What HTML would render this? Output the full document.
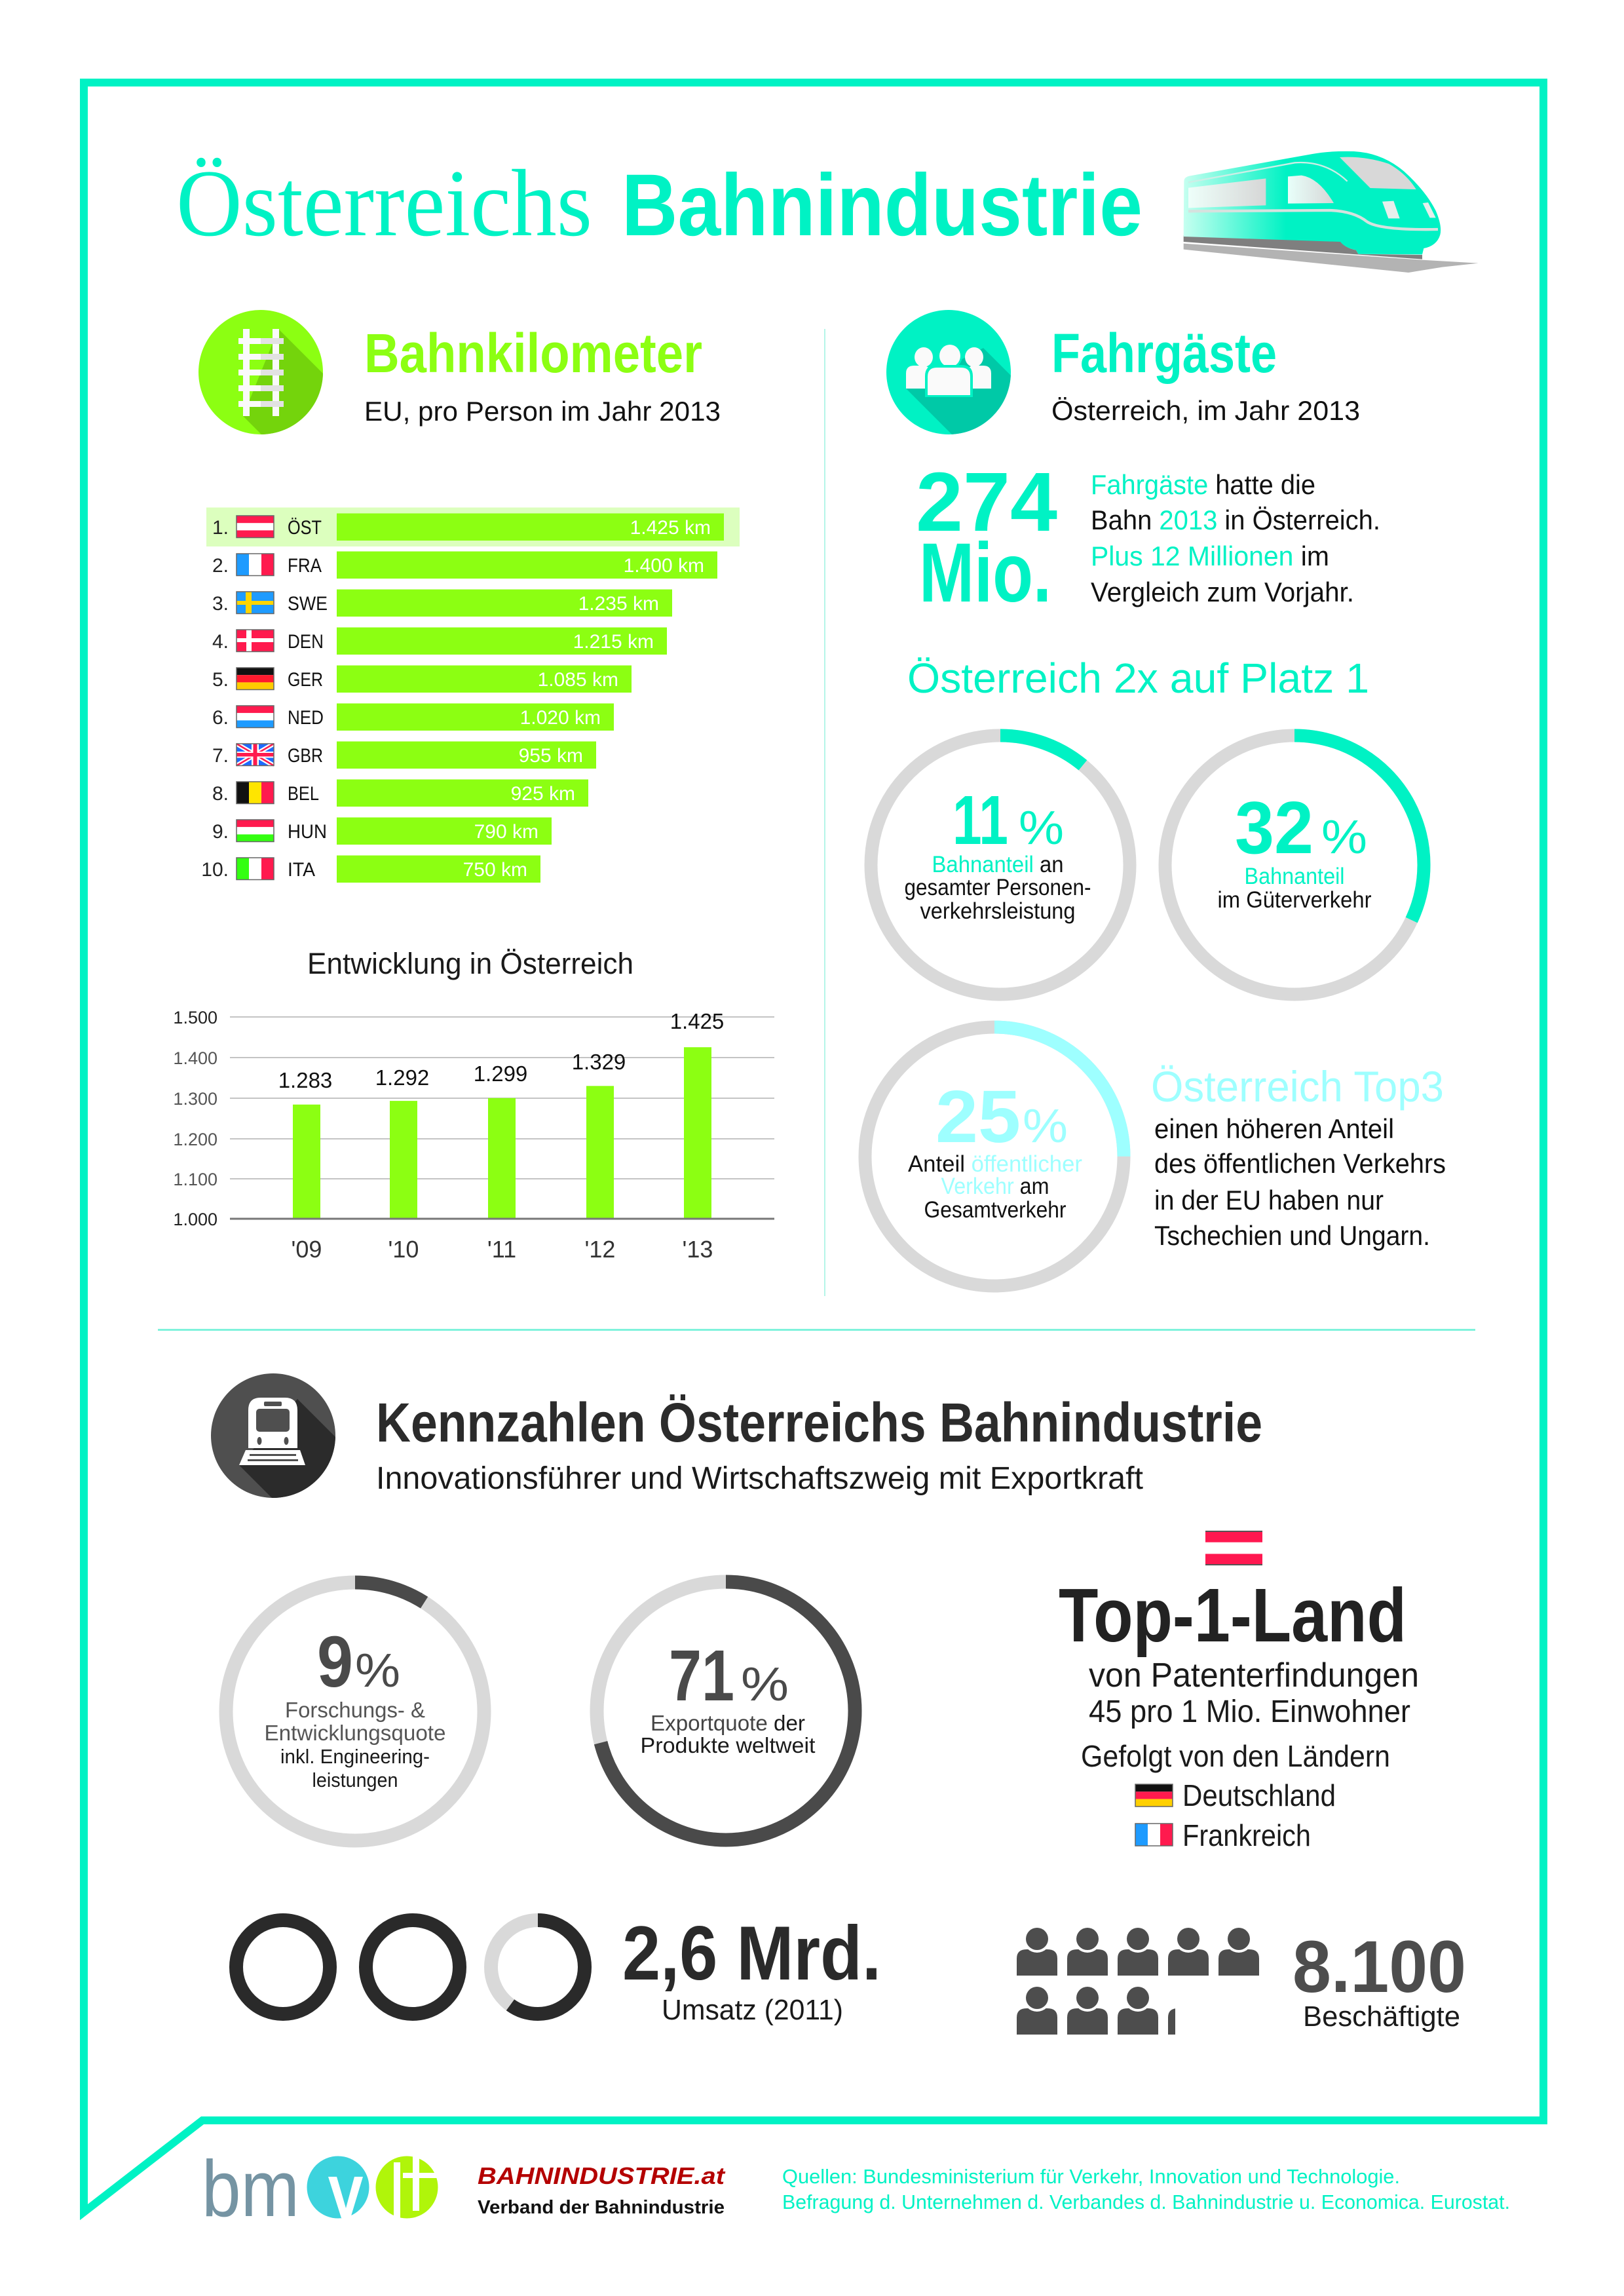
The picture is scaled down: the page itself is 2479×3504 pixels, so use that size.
<!DOCTYPE html>
<html><head><meta charset="utf-8"><title>Österreichs Bahnindustrie</title>
<style>
html,body{margin:0;padding:0;background:#fff;}
svg{display:block;}
text{font-family:"Liberation Sans","DejaVu Sans",sans-serif;}
.serif{font-family:"Liberation Serif","DejaVu Serif",serif;}
</style></head>
<body>
<svg xmlns="http://www.w3.org/2000/svg" width="2479" height="3504" viewBox="0 0 2479 3504">
<defs>
  <linearGradient id="tg" gradientUnits="userSpaceOnUse" x1="50" y1="0" x2="520" y2="0">
    <stop offset="0" stop-color="#c6fff0"/><stop offset="1" stop-color="#00F2C4"/>
  </linearGradient>
  <linearGradient id="wg" gradientUnits="userSpaceOnUse" x1="70" y1="0" x2="430" y2="0">
    <stop offset="0" stop-color="#eefffa"/><stop offset="1" stop-color="#d6d6d6"/>
  </linearGradient>
  <linearGradient id="wg2" gradientUnits="userSpaceOnUse" x1="528" y1="0" x2="740" y2="0">
    <stop offset="0" stop-color="#e8fffa"/><stop offset="1" stop-color="#d6d6d6"/>
  </linearGradient>
  <clipPath id="c1"><circle cx="398" cy="568" r="95"/></clipPath>
  <clipPath id="c2"><circle cx="1448" cy="568" r="95"/></clipPath>
  <clipPath id="c3"><circle cx="417" cy="2191" r="95"/></clipPath>
  <clipPath id="pc"><rect x="1540" y="2920" width="254" height="200"/></clipPath>
  <g id="person">
    <path d="M0,74 L0,48 Q0,34 15,34 L47,34 Q62,34 62,48 L62,74 Q62,74 58,74 L4,74 Q0,74 0,74 Z" fill="#4d4d4d"/>
    <circle cx="31" cy="18" r="21" fill="#fff"/>
    <circle cx="31" cy="18" r="17" fill="#4d4d4d"/>
  </g>
</defs>

<!-- Frame -->
<path d="M309,3236 L2356,3236 L2356,126 L128,126 L128,3376 Z" fill="none" stroke="#00F2C4" stroke-width="12" stroke-linejoin="miter" stroke-miterlimit="6"/>

<!-- Title -->
<text class="serif" x="269" y="359" font-size="146" fill="#00F2C4" textLength="635" lengthAdjust="spacingAndGlyphs">Österreichs</text>
<text x="949" y="359" font-size="134" font-weight="bold" fill="#00F2C4" textLength="795" lengthAdjust="spacingAndGlyphs">Bahnindustrie</text>

<!-- Train -->
<g transform="translate(1790,215) scale(0.33333)">
  <path d="M50,470 L1140,545 L1400,560 L1235,578 L1080,603 L50,497 Z" fill="#b3b3b3"/>
  <path d="M50,432 L768,460 Q790,490 840,500 L850,518 L1143,522 L1143,542 L50,462 Z" fill="#7f7f7f"/>
  <path d="M52,185 Q52,165 80,160 L640,60 Q720,45 830,48 Q960,55 1060,140 Q1160,230 1205,320 Q1235,390 1225,430 Q1210,480 1150,492 L1143,520 L850,518 L840,500 Q790,490 768,462 L50,438 Z" fill="url(#tg)"/>
  <path d="M72,215 L427,172 L427,295 L72,307 Z" fill="url(#wg)"/>
  <path d="M528,163 L590,158 Q670,170 738,285 L528,287 Z" fill="url(#wg2)"/>
  <path d="M765,75 Q880,68 990,105 Q1070,150 1115,222 L905,216 Z" fill="#d8d8d8"/>
  <path d="M960,278 L1012,275 L1040,355 L988,355 Z" fill="#e6efec"/>
  <path d="M1145,285 L1170,282 L1205,352 L1178,352 Z" fill="#e6efec"/>
  <path d="M72,190 L560,100 Q700,90 800,185" fill="none" stroke="#cdeee6" stroke-width="7"/>
  <path d="M72,322 L720,318 Q830,322 890,370 Q950,410 1215,405" fill="none" stroke="#d5e2de" stroke-width="13"/>
</g>

<!-- Bahnkilometer header -->
<circle cx="398" cy="568" r="95" fill="#8CFF12"/>
<polygon points="425,502 725,802 671,935 371,635" fill="#74D40C" clip-path="url(#c1)"/>
<rect x="371" y="502" width="10" height="133" fill="#fafafa"/>
<rect x="416" y="502" width="10" height="133" fill="#fafafa"/>
<g>
  <rect x="364" y="516" width="34" height="9" fill="#fafafa"/><rect x="398" y="516" width="35" height="9" fill="#e2e2e2"/>
  <rect x="364" y="540" width="34" height="9" fill="#fafafa"/><rect x="398" y="540" width="35" height="9" fill="#e2e2e2"/>
  <rect x="364" y="564" width="34" height="9" fill="#fafafa"/><rect x="398" y="564" width="35" height="9" fill="#e2e2e2"/>
  <rect x="364" y="588" width="34" height="9" fill="#fafafa"/><rect x="398" y="588" width="35" height="9" fill="#e2e2e2"/>
  <rect x="364" y="612" width="34" height="9" fill="#fafafa"/><rect x="398" y="612" width="35" height="9" fill="#e2e2e2"/>
</g>
<text x="556" y="568" font-size="84" font-weight="bold" fill="#8CFF12" textLength="516" lengthAdjust="spacingAndGlyphs">Bahnkilometer</text>
<text x="556" y="642" font-size="42" fill="#111" textLength="544" lengthAdjust="spacingAndGlyphs">EU, pro Person im Jahr 2013</text>

<!-- vertical divider -->
<rect x="1258" y="502" width="2" height="1476" fill="#b5f5e8"/>

<!-- Fahrgäste header -->
<circle cx="1448" cy="568" r="95" fill="#00F2C4"/>
<polygon points="1501,531 1801,831 1683,893 1383,593" fill="#00C9A7" clip-path="url(#c2)"/>
<g fill="#fafafa">
  <ellipse cx="1410" cy="545" rx="14" ry="15"/>
  <path d="M1383,593 L1383,570 Q1383,558 1395,558 L1408,558 Q1420,558 1420,570 L1420,593 Z"/>
  <ellipse cx="1487" cy="545" rx="14" ry="15"/>
  <path d="M1476,593 L1476,570 Q1476,558 1488,558 L1501,558 Q1513,558 1513,570 L1513,593 Z"/>
  <ellipse cx="1450" cy="543" rx="19" ry="20" fill="#00F2C4"/>
  <ellipse cx="1450" cy="543" rx="16" ry="17"/>
  <path d="M1412,606 L1412,574 Q1412,557 1429,557 L1468,557 Q1485,557 1485,574 L1485,606 Z" fill="#00F2C4"/>
  <path d="M1416,603 L1416,575 Q1416,561 1430,561 L1467,561 Q1481,561 1481,575 L1481,603 Z"/>
</g>
<text x="1605" y="568" font-size="84" font-weight="bold" fill="#00F2C4" textLength="344" lengthAdjust="spacingAndGlyphs">Fahrgäste</text>
<text x="1605" y="641" font-size="42" fill="#111" textLength="471" lengthAdjust="spacingAndGlyphs">Österreich, im Jahr 2013</text>

<!-- Ranking list -->
<rect x="315" y="774.5" width="814" height="59.5" fill="#DCFFBE"/>
<g fill="#8CFF12">
  <rect x="514" y="783.5" width="591" height="41.5"/>
  <rect x="514" y="841.5" width="581" height="41.5"/>
  <rect x="514" y="899.5" width="512" height="41.5"/>
  <rect x="514" y="957.5" width="504" height="41.5"/>
  <rect x="514" y="1015.5" width="450" height="41.5"/>
  <rect x="514" y="1073.5" width="423" height="41.5"/>
  <rect x="514" y="1131.5" width="396" height="41.5"/>
  <rect x="514" y="1189.5" width="384" height="41.5"/>
  <rect x="514" y="1247.5" width="328" height="41.5"/>
  <rect x="514" y="1305.5" width="311" height="41.5"/>
</g>
<g font-size="30" fill="#fff" text-anchor="end">
  <text x="1085" y="815">1.425 km</text>
  <text x="1075" y="873">1.400 km</text>
  <text x="1006" y="931">1.235 km</text>
  <text x="998" y="989">1.215 km</text>
  <text x="944" y="1047">1.085 km</text>
  <text x="917" y="1105">1.020 km</text>
  <text x="890" y="1163">955 km</text>
  <text x="878" y="1221">925 km</text>
  <text x="822" y="1279">790 km</text>
  <text x="805" y="1337">750 km</text>
</g>
<g font-size="30" fill="#222" text-anchor="end">
  <text x="349" y="815">1.</text><text x="349" y="873">2.</text><text x="349" y="931">3.</text>
  <text x="349" y="989">4.</text><text x="349" y="1047">5.</text><text x="349" y="1105">6.</text>
  <text x="349" y="1163">7.</text><text x="349" y="1221">8.</text><text x="349" y="1279">9.</text>
  <text x="349" y="1337">10.</text>
</g>
<g font-size="30" fill="#111">
  <text x="439" y="815" textLength="52" lengthAdjust="spacingAndGlyphs">ÖST</text>
  <text x="439" y="873" textLength="52" lengthAdjust="spacingAndGlyphs">FRA</text>
  <text x="439" y="931" textLength="61" lengthAdjust="spacingAndGlyphs">SWE</text>
  <text x="439" y="989" textLength="55" lengthAdjust="spacingAndGlyphs">DEN</text>
  <text x="439" y="1047" textLength="54" lengthAdjust="spacingAndGlyphs">GER</text>
  <text x="439" y="1105" textLength="55" lengthAdjust="spacingAndGlyphs">NED</text>
  <text x="439" y="1163" textLength="54" lengthAdjust="spacingAndGlyphs">GBR</text>
  <text x="439" y="1221" textLength="48" lengthAdjust="spacingAndGlyphs">BEL</text>
  <text x="439" y="1279" textLength="60" lengthAdjust="spacingAndGlyphs">HUN</text>
  <text x="439" y="1337" textLength="42" lengthAdjust="spacingAndGlyphs">ITA</text>
</g>
<!-- flags -->
<g>
  <!-- AT -->
  <g transform="translate(361,787)">
    <rect width="57" height="33.5" fill="#FF1A4E"/><rect y="11.2" width="57" height="11.2" fill="#fff"/>
    <rect width="57" height="33.5" fill="none" stroke="#666" stroke-width="1.5"/>
  </g>
  <!-- FR -->
  <g transform="translate(361,845)">
    <rect width="19" height="33.5" fill="#1E9BFF"/><rect x="19" width="19" height="33.5" fill="#fff"/><rect x="38" width="19" height="33.5" fill="#FF1A4E"/>
    <rect width="57" height="33.5" fill="none" stroke="#666" stroke-width="1.5"/>
  </g>
  <!-- SWE -->
  <g transform="translate(361,903)">
    <rect width="57" height="33.5" fill="#1E9BFF"/><rect x="14" width="9" height="33.5" fill="#FFD500"/><rect y="14" width="57" height="6" fill="#FFD500"/>
    <rect width="57" height="33.5" fill="none" stroke="#666" stroke-width="1.5"/>
  </g>
  <!-- DEN -->
  <g transform="translate(361,961)">
    <rect width="57" height="33.5" fill="#FF1A4E"/><rect x="15" width="8" height="33.5" fill="#fff"/><rect y="13" width="57" height="6" fill="#fff"/>
    <rect width="57" height="33.5" fill="none" stroke="#666" stroke-width="1.5"/>
  </g>
  <!-- GER -->
  <g transform="translate(361,1019)">
    <rect width="57" height="11.2" fill="#111"/><rect y="11.2" width="57" height="11.2" fill="#FF1A2E"/><rect y="22.4" width="57" height="11.1" fill="#FFCC00"/>
    <rect width="57" height="33.5" fill="none" stroke="#666" stroke-width="1.5"/>
  </g>
  <!-- NED -->
  <g transform="translate(361,1077)">
    <rect width="57" height="11.2" fill="#FF1A4E"/><rect y="11.2" width="57" height="11.2" fill="#fff"/><rect y="22.4" width="57" height="11.1" fill="#1E9BFF"/>
    <rect width="57" height="33.5" fill="none" stroke="#666" stroke-width="1.5"/>
  </g>
  <!-- GBR -->
  <g transform="translate(361,1135)">
    <rect width="57" height="33.5" fill="#1E6BFF"/>
    <path d="M0,0 L57,33.5 M57,0 L0,33.5" stroke="#fff" stroke-width="7"/>
    <path d="M0,0 L57,33.5 M57,0 L0,33.5" stroke="#FF1A4E" stroke-width="2.5"/>
    <rect x="23" width="11" height="33.5" fill="#fff"/><rect y="12" width="57" height="9.5" fill="#fff"/>
    <rect x="25.5" width="6" height="33.5" fill="#FF1A4E"/><rect y="14" width="57" height="5.5" fill="#FF1A4E"/>
    <rect width="57" height="33.5" fill="none" stroke="#666" stroke-width="1.5"/>
  </g>
  <!-- BEL -->
  <g transform="translate(361,1193)">
    <rect width="19" height="33.5" fill="#111"/><rect x="19" width="19" height="33.5" fill="#FFE500"/><rect x="38" width="19" height="33.5" fill="#FF1A4E"/>
    <rect width="57" height="33.5" fill="none" stroke="#666" stroke-width="1.5"/>
  </g>
  <!-- HUN -->
  <g transform="translate(361,1251)">
    <rect width="57" height="11.2" fill="#FF1A4E"/><rect y="11.2" width="57" height="11.2" fill="#fff"/><rect y="22.4" width="57" height="11.1" fill="#33FF11"/>
    <rect width="57" height="33.5" fill="none" stroke="#666" stroke-width="1.5"/>
  </g>
  <!-- ITA -->
  <g transform="translate(361,1309)">
    <rect width="19" height="33.5" fill="#33FF11"/><rect x="19" width="19" height="33.5" fill="#fff"/><rect x="38" width="19" height="33.5" fill="#FF1A4E"/>
    <rect width="57" height="33.5" fill="none" stroke="#666" stroke-width="1.5"/>
  </g>
</g>

<!-- Entwicklung chart -->
<text x="469" y="1486" font-size="45" fill="#1a1a1a" textLength="498" lengthAdjust="spacingAndGlyphs">Entwicklung in Österreich</text>
<g stroke="#c4c4c4" stroke-width="2">
  <line x1="351" y1="1552" x2="1182" y2="1552"/>
  <line x1="351" y1="1614" x2="1182" y2="1614"/>
  <line x1="351" y1="1676" x2="1182" y2="1676"/>
  <line x1="351" y1="1738" x2="1182" y2="1738"/>
  <line x1="351" y1="1799" x2="1182" y2="1799"/>
</g>
<g fill="#8CFF12">
  <rect x="447" y="1685.7" width="42" height="174.3"/>
  <rect x="595" y="1680.1" width="42" height="179.9"/>
  <rect x="745" y="1675.8" width="42" height="184.2"/>
  <rect x="895" y="1657.3" width="42" height="202.7"/>
  <rect x="1044" y="1598.2" width="42" height="261.8"/>
</g>
<line x1="351" y1="1860" x2="1182" y2="1860" stroke="#777" stroke-width="3"/>
<g font-size="27" text-anchor="end">
  <text x="332" y="1562" fill="#222">1.500</text>
  <text x="332" y="1624" fill="#555">1.400</text>
  <text x="332" y="1686" fill="#555">1.300</text>
  <text x="332" y="1748" fill="#555">1.200</text>
  <text x="332" y="1809" fill="#555">1.100</text>
  <text x="332" y="1870" fill="#222">1.000</text>
</g>
<g font-size="33" fill="#111" text-anchor="middle">
  <text x="466" y="1660">1.283</text>
  <text x="614" y="1656">1.292</text>
  <text x="764" y="1650">1.299</text>
  <text x="914" y="1632">1.329</text>
  <text x="1064" y="1570">1.425</text>
</g>
<g font-size="36" fill="#333" text-anchor="middle">
  <text x="468" y="1919">'09</text>
  <text x="616" y="1919">'10</text>
  <text x="766" y="1919">'11</text>
  <text x="916" y="1919">'12</text>
  <text x="1065" y="1919">'13</text>
</g>

<!-- 274 Mio. -->
<text x="1398" y="810" font-size="128" font-weight="bold" fill="#00F2C4" textLength="216" lengthAdjust="spacingAndGlyphs">274</text>
<text x="1403" y="918" font-size="128" font-weight="bold" fill="#00F2C4" textLength="202" lengthAdjust="spacingAndGlyphs">Mio.</text>
<g font-size="42" fill="#111">
  <text x="1665" y="754" textLength="343" lengthAdjust="spacingAndGlyphs"><tspan fill="#00F2C4">Fahrgäste</tspan> hatte die</text>
  <text x="1665" y="808" textLength="442" lengthAdjust="spacingAndGlyphs">Bahn <tspan fill="#00F2C4">2013</tspan> in Österreich.</text>
  <text x="1665" y="863" textLength="364" lengthAdjust="spacingAndGlyphs"><tspan fill="#00F2C4">Plus 12 Millionen</tspan> im</text>
  <text x="1665" y="918" textLength="402" lengthAdjust="spacingAndGlyphs">Vergleich zum Vorjahr.</text>
</g>
<text x="1385" y="1057" font-size="64" fill="#00F2C4" textLength="705" lengthAdjust="spacingAndGlyphs">Österreich 2x auf Platz 1</text>

<!-- Circles 11%, 32%, 25% -->
<g fill="none" stroke-width="20">
  <circle cx="1527" cy="1320" r="197.5" stroke="#D9D9D9"/>
  <circle cx="1527" cy="1320" r="197.5" stroke="#00F2C4" stroke-dasharray="136.5 2000" transform="rotate(-90 1527 1320)"/>
  <circle cx="1976" cy="1320" r="197.5" stroke="#D9D9D9"/>
  <circle cx="1976" cy="1320" r="197.5" stroke="#00F2C4" stroke-dasharray="397 2000" transform="rotate(-90 1976 1320)"/>
  <circle cx="1518" cy="1765" r="197.5" stroke="#D9D9D9"/>
  <circle cx="1518" cy="1765" r="197.5" stroke="#9EFFFF" stroke-dasharray="310 2000" transform="rotate(-90 1518 1765)"/>
</g>
<text x="1454" y="1288" font-size="106" font-weight="bold" fill="#00F2C4" textLength="85" lengthAdjust="spacingAndGlyphs">11</text>
<text x="1555" y="1288" font-size="72" fill="#00F2C4" textLength="69" lengthAdjust="spacingAndGlyphs">%</text>
<g font-size="35" fill="#111" text-anchor="middle">
  <text x="1523" y="1331" textLength="201" lengthAdjust="spacingAndGlyphs"><tspan fill="#00F2C4">Bahnanteil</tspan> an</text>
  <text x="1523" y="1366" textLength="285" lengthAdjust="spacingAndGlyphs">gesamter Personen-</text>
  <text x="1523" y="1402" textLength="237" lengthAdjust="spacingAndGlyphs">verkehrsleistung</text>
</g>
<text x="1885" y="1302" font-size="113" font-weight="bold" fill="#00F2C4" textLength="120" lengthAdjust="spacingAndGlyphs">32</text>
<text x="2017" y="1302" font-size="72" fill="#00F2C4" textLength="70" lengthAdjust="spacingAndGlyphs">%</text>
<g font-size="35" fill="#111" text-anchor="middle">
  <text x="1976" y="1349" fill="#00F2C4" textLength="153" lengthAdjust="spacingAndGlyphs">Bahnanteil</text>
  <text x="1976" y="1385" textLength="235" lengthAdjust="spacingAndGlyphs">im Güterverkehr</text>
</g>
<text x="1428" y="1743" font-size="113" font-weight="bold" fill="#9EFFFF" textLength="130" lengthAdjust="spacingAndGlyphs">25</text>
<text x="1561" y="1743" font-size="72" fill="#9EFFFF" textLength="69" lengthAdjust="spacingAndGlyphs">%</text>
<g font-size="35" fill="#111" text-anchor="middle">
  <text x="1519" y="1788" textLength="266" lengthAdjust="spacingAndGlyphs">Anteil <tspan fill="#9EFFFF">öffentlicher</tspan></text>
  <text x="1519" y="1822" textLength="165" lengthAdjust="spacingAndGlyphs"><tspan fill="#9EFFFF">Verkehr</tspan> am</text>
  <text x="1519" y="1858" textLength="217" lengthAdjust="spacingAndGlyphs">Gesamtverkehr</text>
</g>
<text x="1757" y="1681" font-size="66" fill="#9EFFFF" textLength="447" lengthAdjust="spacingAndGlyphs">Österreich Top3</text>
<g font-size="42" fill="#111">
  <text x="1762" y="1737" textLength="366" lengthAdjust="spacingAndGlyphs">einen höheren Anteil</text>
  <text x="1762" y="1790" textLength="445" lengthAdjust="spacingAndGlyphs">des öffentlichen Verkehrs</text>
  <text x="1762" y="1846" textLength="350" lengthAdjust="spacingAndGlyphs">in der EU haben nur</text>
  <text x="1762" y="1900" textLength="421" lengthAdjust="spacingAndGlyphs">Tschechien und Ungarn.</text>
</g>

<!-- horizontal divider -->
<rect x="241" y="2028" width="2011" height="3" fill="#7FF3DC"/>

<!-- Kennzahlen header -->
<circle cx="417" cy="2191" r="95" fill="#4f4f4f"/>
<polygon points="454,2135 754,2435 665,2536 365,2236" fill="#2b2b2b" clip-path="url(#c3)"/>
<g>
  <path d="M379,2210 L379,2152 Q379,2133 398,2133 L435,2133 Q454,2133 454,2152 L454,2210 Z" fill="#fff"/>
  <rect x="391" y="2150" width="51" height="35" rx="5" fill="#4f4f4f"/>
  <rect x="403" y="2139" width="27" height="7" rx="2" fill="#4f4f4f"/>
  <ellipse cx="396" cy="2199" rx="3.5" ry="6" fill="#4f4f4f"/>
  <ellipse cx="437" cy="2199" rx="3.5" ry="6" fill="#4f4f4f"/>
  <path d="M375,2213 L458,2213 L466,2236 L365,2236 Z" fill="#fff"/>
  <rect x="381" y="2219" width="71" height="3" fill="#4f4f4f"/>
  <rect x="378" y="2227" width="77" height="3" fill="#4f4f4f"/>
</g>
<text x="574" y="2200" font-size="84" font-weight="bold" fill="#2b2b2b" textLength="1353" lengthAdjust="spacingAndGlyphs">Kennzahlen Österreichs Bahnindustrie</text>
<text x="574" y="2272" font-size="48" fill="#1a1a1a" textLength="1171" lengthAdjust="spacingAndGlyphs">Innovationsführer und Wirtschaftszweig mit Exportkraft</text>

<!-- 9% and 71% circles -->
<g fill="none" stroke-width="21">
  <circle cx="542" cy="2612" r="197" stroke="#D9D9D9"/>
  <circle cx="542" cy="2612" r="197" stroke="#4A4A4A" stroke-dasharray="111.4 2000" transform="rotate(-90 542 2612)"/>
  <circle cx="1108" cy="2611" r="197" stroke="#D9D9D9"/>
  <circle cx="1108" cy="2611" r="197" stroke="#4A4A4A" stroke-dasharray="878.8 2000" transform="rotate(-90 1108 2611)"/>
</g>
<text x="484" y="2574" font-size="110" font-weight="bold" fill="#4A4A4A" textLength="55" lengthAdjust="spacingAndGlyphs">9</text>
<text x="542" y="2574" font-size="72" fill="#4A4A4A" textLength="69" lengthAdjust="spacingAndGlyphs">%</text>
<g font-size="33" text-anchor="middle">
  <text x="542" y="2621" fill="#555" textLength="214" lengthAdjust="spacingAndGlyphs">Forschungs- &amp;</text>
  <text x="542" y="2656" fill="#555" textLength="277" lengthAdjust="spacingAndGlyphs">Entwicklungsquote</text>
  <text x="542" y="2691" fill="#1a1a1a" font-size="31" textLength="228" lengthAdjust="spacingAndGlyphs">inkl. Engineering-</text>
  <text x="542" y="2727" fill="#1a1a1a" font-size="31" textLength="131" lengthAdjust="spacingAndGlyphs">leistungen</text>
</g>
<text x="1021" y="2595" font-size="110" font-weight="bold" fill="#4A4A4A" textLength="100" lengthAdjust="spacingAndGlyphs">71</text>
<text x="1131" y="2595" font-size="72" fill="#4A4A4A" textLength="73" lengthAdjust="spacingAndGlyphs">%</text>
<g font-size="33" text-anchor="middle">
  <text x="1111" y="2641" fill="#444" textLength="236" lengthAdjust="spacingAndGlyphs">Exportquote <tspan fill="#1a1a1a">der</tspan></text>
  <text x="1111" y="2675" fill="#1a1a1a" textLength="267" lengthAdjust="spacingAndGlyphs">Produkte weltweit</text>
</g>

<!-- Top-1-Land -->
<g transform="translate(1840,2336)">
  <rect width="87" height="53" fill="#FF1850"/><rect y="17.7" width="87" height="17.7" fill="#fff"/>
  <rect x="0" y="0" width="87" height="2" fill="#555"/><rect x="0" y="51" width="87" height="2" fill="#555"/>
</g>
<text x="1616" y="2505" font-size="116" font-weight="bold" fill="#222" textLength="531" lengthAdjust="spacingAndGlyphs">Top-1-Land</text>
<text x="1662" y="2574" font-size="52" fill="#1a1a1a" textLength="504" lengthAdjust="spacingAndGlyphs">von Patenterfindungen</text>
<text x="1662" y="2628" font-size="48" fill="#1a1a1a" textLength="491" lengthAdjust="spacingAndGlyphs">45 pro 1 Mio. Einwohner</text>
<text x="1650" y="2696" font-size="46" fill="#1a1a1a" textLength="472" lengthAdjust="spacingAndGlyphs">Gefolgt von den Ländern</text>
<g transform="translate(1733,2723)">
  <rect width="57" height="11.3" fill="#111"/><rect y="11.3" width="57" height="11.3" fill="#FF1A4E"/><rect y="22.6" width="57" height="11.4" fill="#FFD000"/>
  <rect width="57" height="34" fill="none" stroke="#666" stroke-width="1.5"/>
</g>
<text x="1805" y="2756" font-size="46" fill="#1a1a1a" textLength="234" lengthAdjust="spacingAndGlyphs">Deutschland</text>
<g transform="translate(1733,2783)">
  <rect width="19" height="34" fill="#1E9BFF"/><rect x="19" width="19" height="34" fill="#fff"/><rect x="38" width="19" height="34" fill="#FF1A4E"/>
  <rect width="57" height="34" fill="none" stroke="#666" stroke-width="1.5"/>
</g>
<text x="1805" y="2817" font-size="46" fill="#1a1a1a" textLength="196" lengthAdjust="spacingAndGlyphs">Frankreich</text>

<!-- Umsatz rings -->
<g fill="none" stroke-width="21">
  <circle cx="432" cy="3002" r="71.5" stroke="#2a2a2a"/>
  <circle cx="630" cy="3002" r="71.5" stroke="#2a2a2a"/>
  <circle cx="821" cy="3002" r="71.5" stroke="#D9D9D9"/>
  <circle cx="821" cy="3002" r="71.5" stroke="#2a2a2a" stroke-dasharray="269.5 2000" transform="rotate(-90 821 3002)"/>
</g>
<text x="950" y="3021" font-size="117" font-weight="bold" fill="#2a2a2a" textLength="395" lengthAdjust="spacingAndGlyphs">2,6 Mrd.</text>
<text x="1010" y="3082" font-size="44" fill="#1a1a1a" textLength="277" lengthAdjust="spacingAndGlyphs">Umsatz (2011)</text>

<!-- People -->
<g>
  <use href="#person" x="1552" y="2941"/>
  <use href="#person" x="1629" y="2941"/>
  <use href="#person" x="1706" y="2941"/>
  <use href="#person" x="1783" y="2941"/>
  <use href="#person" x="1860" y="2941"/>
  <use href="#person" x="1552" y="3031"/>
  <use href="#person" x="1629" y="3031"/>
  <use href="#person" x="1706" y="3031"/>
  <g clip-path="url(#pc)"><use href="#person" x="1783" y="3031"/></g>
</g>
<text x="1973" y="3040" font-size="112" font-weight="bold" fill="#4d4d4d" textLength="265" lengthAdjust="spacingAndGlyphs">8.100</text>
<text x="1989" y="3092" font-size="44" fill="#1a1a1a" textLength="240" lengthAdjust="spacingAndGlyphs">Beschäftigte</text>

<!-- Footer: bmvit logo -->
<text x="308" y="3382" font-size="122" fill="#7594A3" textLength="149" lengthAdjust="spacingAndGlyphs">bm</text>
<circle cx="516" cy="3338" r="47.5" fill="#3DD3DD"/>
<polygon points="501,3322 514,3322 528,3370 541,3322 554,3322 535,3385 521,3385" fill="#fff"/>
<circle cx="621" cy="3338" r="47.5" fill="#B0F50A"/>
<rect x="601" y="3300" width="10" height="85" fill="#fff"/>
<rect x="630" y="3290" width="10" height="84" fill="#fff"/>
<rect x="615" y="3316" width="52" height="8" fill="#fff"/>
<text x="729" y="3333" font-size="36" font-weight="bold" font-style="italic" fill="#B40000" textLength="377" lengthAdjust="spacingAndGlyphs">BAHNINDUSTRIE.at</text>
<text x="729" y="3378" font-size="29" font-weight="bold" fill="#111" textLength="377" lengthAdjust="spacingAndGlyphs">Verband der Bahnindustrie</text>
<text x="1194" y="3332" font-size="31" fill="#00F2C4" textLength="943" lengthAdjust="spacingAndGlyphs">Quellen: Bundesministerium für Verkehr, Innovation und Technologie.</text>
<text x="1194" y="3371" font-size="31" fill="#00F2C4" textLength="1111" lengthAdjust="spacingAndGlyphs">Befragung d. Unternehmen d. Verbandes d. Bahnindustrie u. Economica. Eurostat.</text>
</svg>
</body></html>
